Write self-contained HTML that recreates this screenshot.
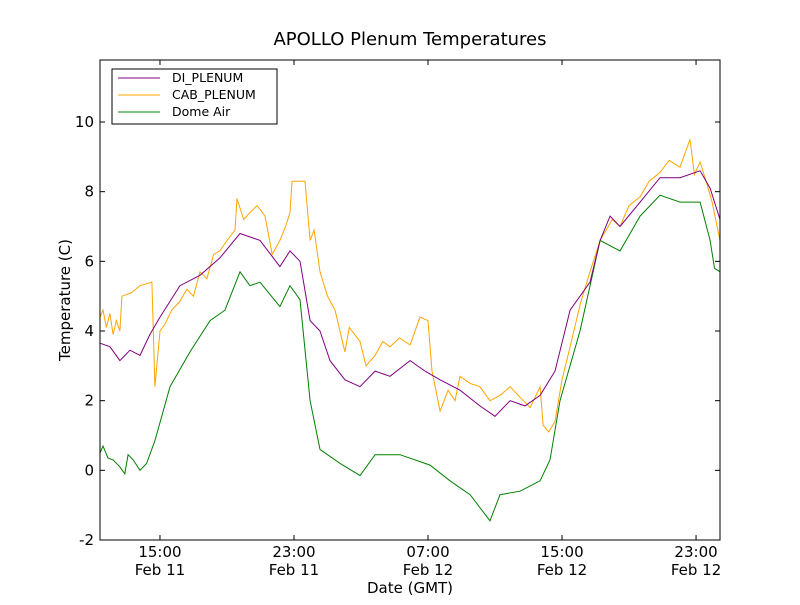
<!DOCTYPE html>
<html><head><meta charset="utf-8"><style>
body{margin:0;background:#fff;}
svg{font-family:"DejaVu Sans","Liberation Sans",sans-serif;}
</style></head><body>
<svg id="chart" width="800" height="600" xmlns="http://www.w3.org/2000/svg">
<rect width="800" height="600" fill="#fff"/>
<text x="410" y="45" font-size="18" text-anchor="middle">APOLLO Plenum Temperatures</text>
<g id="plot"></g>
<rect x="100" y="60" width="620" height="480" fill="none" stroke="#000" stroke-width="1"/>
<text transform="translate(70,300) rotate(-90)" font-size="15" text-anchor="middle">Temperature (C)</text>
<text x="410" y="593" font-size="15" text-anchor="middle">Date (GMT)</text>
<g>
<rect x="112" y="69" width="165" height="55" fill="#fff" stroke="#000"/>
<line x1="118" y1="78" x2="160" y2="78" stroke="purple"/><text x="172" y="82" font-size="12.5">DI_PLENUM</text>
<line x1="118" y1="95" x2="160" y2="95" stroke="orange"/><text x="172" y="99" font-size="12.5">CAB_PLENUM</text>
<line x1="118" y1="112" x2="160" y2="112" stroke="green"/><text x="172" y="116" font-size="12.5">Dome Air</text>
</g>
</svg>
<script>
const xTickHours=[15,23,31,39,47];
const xTickTimes=["15:00","23:00","07:00","15:00","23:00"];
const xTickDates=["Feb 11","Feb 11","Feb 12","Feb 12","Feb 12"];
const yTicks=[-2,0,2,4,6,8,10];
const greenT=[11.42,11.6,11.9,12.2,12.61,12.9,13.1,13.4,13.81,14.2,14.70,15.60,16.79,17.99,18.88,19.78,20.37,20.97,22.16,22.76,23.36,23.96,24.55,25.75,26.94,27.84,29.33,31.12,32.31,33.51,34.70,35.30,36.49,37.69,38.28,38.88,40.07,41.27,42.46,43.66,44.85,46.04,47.24,47.84,48.1,48.43];
const greenV=[0.5,0.7,0.35,0.3,0.1,-0.1,0.45,0.3,0,0.2,0.85,2.4,3.4,4.3,4.6,5.7,5.3,5.4,4.7,5.3,4.9,2,0.6,0.2,-0.15,0.45,0.45,0.15,-0.3,-0.7,-1.45,-0.7,-0.6,-0.3,0.3,2,4,6.6,6.3,7.3,7.9,7.7,7.7,6.6,5.8,5.7];
const purpleT=[11.42,12.01,12.61,13.21,13.81,14.40,15,16.19,17.39,18.58,19.78,20.97,22.16,22.76,23.36,23.96,24.55,25.15,26.04,26.94,27.84,28.73,29.93,30.82,31.72,32.91,34.10,35.0,35.90,36.79,37.69,38.58,39.48,40.67,41.27,41.87,42.46,43.66,44.85,46.04,47.24,47.84,48.43];
const purpleV=[3.65,3.55,3.15,3.45,3.3,3.9,4.4,5.3,5.6,6.1,6.8,6.6,5.85,6.3,6,4.3,4,3.15,2.6,2.4,2.85,2.7,3.15,2.85,2.6,2.3,1.85,1.55,2,1.85,2.15,2.85,4.6,5.4,6.6,7.3,7,7.7,8.4,8.4,8.6,8.1,7.2];
const orangeT=[11.42,11.6,11.8,12.01,12.2,12.4,12.61,12.73,13.3,13.81,14.52,14.70,15.0,15.30,15.7,16.19,16.6,17.0,17.39,17.8,18.2,18.58,19.0,19.48,19.6,20.0,20.37,20.8,21.27,21.7,22.16,22.5,22.76,22.88,23.66,23.96,24.2,24.55,25.0,25.45,26.04,26.3,26.94,27.3,27.84,28.3,28.73,29.3,29.93,30.52,31.0,31.24,31.72,32.2,32.61,32.91,33.5,34.10,34.7,35.30,35.9,36.49,37.1,37.69,37.87,38.2,38.58,39.0,39.48,40.1,40.67,41.27,42.0,42.46,43.0,43.66,44.2,44.85,45.4,46.04,46.64,46.9,47.24,47.6,47.96,48.43];
const orangeV=[4.4,4.6,4.1,4.5,3.9,4.3,4.0,5.0,5.1,5.3,5.4,2.4,4.0,4.2,4.6,4.85,5.2,5.0,5.7,5.5,6.2,6.3,6.6,6.9,7.8,7.2,7.4,7.6,7.3,6.2,6.6,7.0,7.4,8.3,8.3,6.6,6.9,5.7,5.0,4.6,3.4,4.1,3.7,3.0,3.3,3.7,3.55,3.8,3.6,4.4,4.3,2.85,1.7,2.3,2.0,2.7,2.5,2.4,2.0,2.15,2.4,2.1,1.8,2.4,1.3,1.1,1.4,2.6,3.55,4.8,5.7,6.6,7.2,7.0,7.6,7.85,8.3,8.55,8.9,8.7,9.5,8.5,8.85,8.3,7.7,6.6];

const NS="http://www.w3.org/2000/svg";
const L=100,R=720,T=60,B=540,tMin=11.42,tMax=48.43,vMin=-2,vMax=11.78;
const xs=t=>L+(t-tMin)/(tMax-tMin)*(R-L);
const ys=v=>B-(v-vMin)/(vMax-vMin)*(B-T);
const svg=document.getElementById('chart'),plot=document.getElementById('plot');
function mk(tag,attrs,parent){const e=document.createElementNS(NS,tag);for(const k in attrs)e.setAttribute(k,attrs[k]);parent.appendChild(e);return e;}
function series(T_,V_,color,name){
  const d=T_.map((t,i)=>(i?'L':'M')+xs(t).toFixed(1)+','+ys(V_[i]).toFixed(1)).join('');
  const p=mk('path',{d:d,fill:'none',stroke:color,'stroke-width':1},plot);
  
  
}
series(greenT,greenV,'green','dome-air-line');
series(orangeT,orangeV,'orange','cab-plenum-line');
series(purpleT,purpleV,'purple','di-plenum-line');
yTicks.forEach(v=>{
  const y=ys(v);
  mk('line',{x1:L,x2:L+5,y1:y,y2:y,stroke:'#000'},svg);
  mk('line',{x1:R-5,x2:R,y1:y,y2:y,stroke:'#000'},svg);
  const t=mk('text',{x:L-6,y:y+5,'font-size':15,'text-anchor':'end'},svg);
  t.textContent=v;
  
  
});
xTickHours.forEach((h,i)=>{
  const x=xs(h);
  mk('line',{x1:x,x2:x,y1:B,y2:B-5,stroke:'#000'},svg);
  mk('line',{x1:x,x2:x,y1:T,y2:T+5,stroke:'#000'},svg);
  const t=mk('text',{x:x,y:557,'font-size':15,'text-anchor':'middle'},svg);
  t.textContent=xTickTimes[i];
  
  
  const t2=mk('text',{x:x,y:575,'font-size':15,'text-anchor':'middle'},svg);
  t2.textContent=xTickDates[i];
  
  
});
</script>
</body></html>
